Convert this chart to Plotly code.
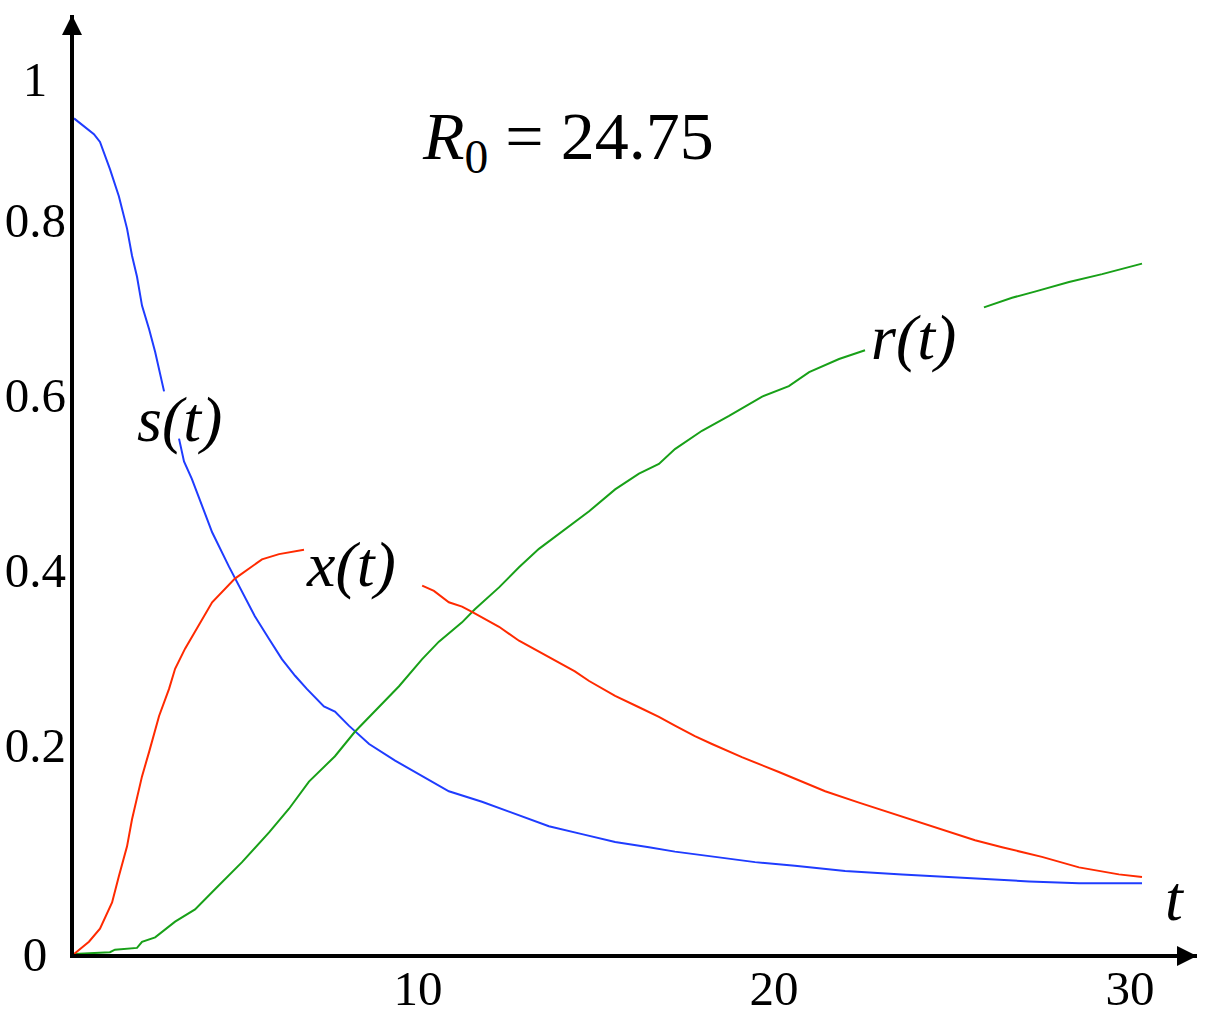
import plotly.graph_objects as go

# ---- data (t, value); None marks where the curve is not drawn (label gap)
t_s = [0, 0.56, 0.73, 1.01, 1.26, 1.49, 1.63, 1.77, 1.91, 2.11, 2.28, 2.39, 2.53, None,
       2.95, 3.09, 3.31, 3.60, 3.88, 4.35, 4.58, 5.08, 5.48, 5.84, 6.21, 6.54, 7.02, 7.33,
       7.72, 8.29, 9.02, 9.78, 10.53, 11.46, 12.58, 13.34, 14.27, 15.20, 16.15, 16.88,
       18.01, 19.13, 20.25, 21.29, 21.66, 23.26, 24.19, 25.42, 26.83, 28.23, 30.0]
s_vals = [0.955, 0.937, 0.928, 0.897, 0.866, 0.829, 0.798, 0.774, 0.741, 0.714, 0.688, 0.669, 0.643, None,
          0.589, 0.563, 0.543, 0.512, 0.482, 0.443, 0.425, 0.386, 0.360, 0.337, 0.318, 0.303, 0.283, 0.277,
          0.261, 0.240, 0.221, 0.203, 0.186, 0.174, 0.157, 0.146, 0.137, 0.128, 0.122, 0.117,
          0.111, 0.105, 0.101, 0.097, 0.095, 0.091, 0.089, 0.086, 0.083, 0.081, 0.081]

t_x = [0, 0.42, 0.73, 1.07, 1.26, 1.49, 1.63, 1.77, 1.91, 2.11, 2.39, 2.67, 2.84, 3.12, 3.60,
       3.88, 4.52, 5.28, 5.76, 6.46, None,
       9.78, 10.11, 10.53, 10.90, 11.18, 11.94, 12.50, 13.34, 14.07, 14.47, 15.20, 15.87,
       16.43, 16.88, 17.44, 17.92, 18.76, 19.80, 20.45, 21.10, 22.05, 23.26, 24.30, 25.31,
       26.07, 27.19, 28.23, 29.35, 30.0]
x_vals = [0, 0.014, 0.029, 0.059, 0.089, 0.123, 0.154, 0.177, 0.203, 0.231, 0.272, 0.303, 0.326, 0.349, 0.383,
          0.402, 0.429, 0.451, 0.457, 0.462, None,
          0.421, 0.415, 0.402, 0.397, 0.391, 0.374, 0.358, 0.339, 0.323, 0.312, 0.295, 0.282,
          0.271, 0.261, 0.249, 0.240, 0.225, 0.208, 0.197, 0.186, 0.173, 0.157, 0.143, 0.130,
          0.122, 0.111, 0.099, 0.091, 0.088]

t_r = [0, 1.01, 1.15, 1.77, 1.91, 2.28, 2.84, 3.40, 3.96, 4.72, 5.48, 6.04, 6.60, 7.33, 7.89,
       8.57, 9.13, 9.78, 10.25, 10.90, 11.26, 11.94, 12.50, 13.06, 13.71, 14.47, 15.20, 15.87,
       16.43, 16.88, 17.64, 18.40, 19.33, 20.08, 20.65, 21.49, 22.22, None,
       25.56, 26.35, 26.99, 27.95, 28.88, 30.0]
r_vals = [0, 0.002, 0.005, 0.007, 0.014, 0.019, 0.037, 0.051, 0.074, 0.105, 0.139, 0.166, 0.197, 0.226, 0.254,
          0.283, 0.306, 0.337, 0.357, 0.379, 0.394, 0.419, 0.442, 0.463, 0.483, 0.506, 0.531, 0.549,
          0.560, 0.577, 0.598, 0.615, 0.637, 0.649, 0.665, 0.680, 0.690, None,
          0.739, 0.750, 0.757, 0.768, 0.777, 0.789]

x_ticks = [10, 20, 30]
x_ticklabels = ["10", "20", "30"]
y_end_ticks = [0, 1]
y_end_labels = ["0", "1"]
y_mid_ticks = [0.2, 0.4, 0.6, 0.8]
y_mid_labels = ["0.2", "0.4", "0.6", "0.8"]

FONT = "Liberation Serif"
W, H = 1226, 1026
ML, MR, MT, MB = 74, 29, 15, 72
PX_PER_T = 35.6
PX_PER_V = 875.0
x_range = [0, (W - ML - MR) / PX_PER_T]
y_range = [0, (H - MT - MB) / PX_PER_V]

fig = go.Figure()
fig.add_trace(go.Scatter(x=t_s, y=s_vals, mode="lines", line=dict(color="#1f3cff", width=2), name="s(t)"))
fig.add_trace(go.Scatter(x=t_x, y=x_vals, mode="lines", line=dict(color="#ff2a00", width=2), name="x(t)", yaxis="y2"))
fig.add_trace(go.Scatter(x=t_r, y=r_vals, mode="lines", line=dict(color="#18a018", width=2), name="r(t)"))

tick_font = dict(family=FONT, size=49, color="black")
fig.update_layout(
    template="none",
    width=W, height=H,
    margin=dict(l=ML, r=MR, t=MT, b=MB, pad=0),
    plot_bgcolor="white", paper_bgcolor="white",
    showlegend=False,
    font=dict(family=FONT, color="black"),
    xaxis=dict(range=x_range, showline=True, linecolor="black", linewidth=4,
               showgrid=False, zeroline=False, ticks="", automargin=False,
               tickvals=x_ticks, ticktext=x_ticklabels, tickfont=tick_font,
               ticklabelstandoff=-12, ticklabelshift=-12),
    yaxis=dict(range=y_range, showline=True, linecolor="black", linewidth=4,
               showgrid=False, zeroline=False, ticks="", automargin=False,
               tickvals=y_end_ticks, ticktext=y_end_labels, tickfont=tick_font,
               ticklabelstandoff=13),
    yaxis2=dict(range=y_range, overlaying="y", side="left", showline=False,
                showgrid=False, zeroline=False, ticks="", automargin=False,
                tickvals=y_mid_ticks, ticktext=y_mid_labels, tickfont=tick_font,
                ticklabelstandoff=7, ticklabelshift=-34),
)

# axis arrowheads
fig.add_annotation(x=1, y=0, xref="paper", yref="paper", text="", showarrow=True,
                   ax=-30, ay=0, arrowhead=2, arrowsize=1.0, arrowwidth=4, arrowcolor="black", yshift=-2)
fig.add_annotation(x=0, y=1, xref="paper", yref="paper", text="", showarrow=True,
                   ax=0, ay=30, arrowhead=2, arrowsize=1.0, arrowwidth=4, arrowcolor="black", xshift=-2)


def serif(txt):
    return '<span style="font-family:Liberation Serif">' + txt + '</span>'


lab_font = dict(family="Liberation Serif", size=64, color="black")
fig.add_annotation(x=2.95, y=0.611, text=serif("<i>s(t)</i>"), showarrow=False, font=lab_font)
fig.add_annotation(x=7.78, y=0.445, text=serif("<i>x(t)</i>"), showarrow=False, font=lab_font)
fig.add_annotation(x=23.57, y=0.705, text=serif("<i>r(t)</i>"), showarrow=False, font=lab_font)
fig.add_annotation(x=30.93, y=0.063, text=serif("<i>t</i>"), showarrow=False, font=lab_font)
fig.add_annotation(x=13.88, y=0.93, text=serif("<i>R</i><sub>0</sub> = 24.75"), showarrow=False,
                   font=dict(family="Liberation Serif", size=68, color="black"))

fig.write_html("out.html")
